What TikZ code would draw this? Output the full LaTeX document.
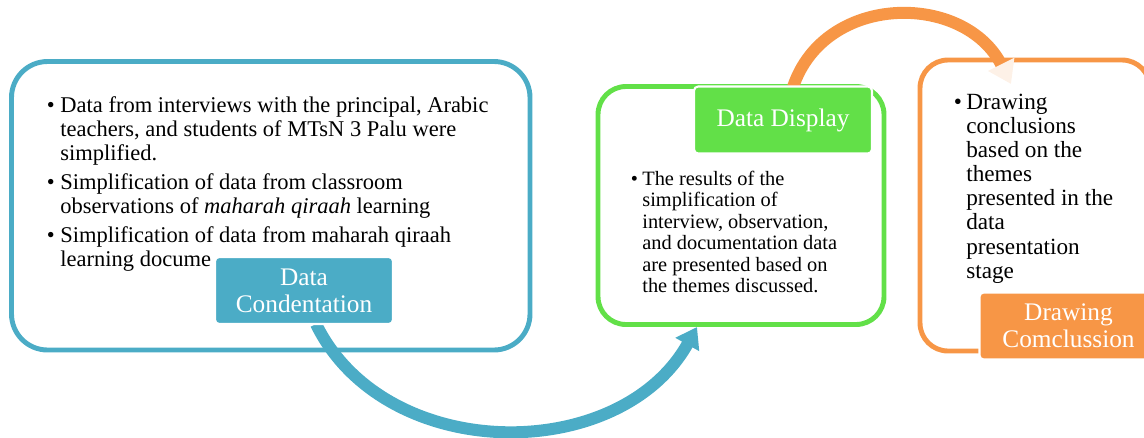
\documentclass[tikz,border=0pt]{standalone}
\usepackage{fontspec}
\setmainfont{Liberation Serif}
\usetikzlibrary{arrows.meta,fit}

\definecolor{condblue}{HTML}{4BACC6}
\definecolor{dispgreen}{HTML}{62E048}
\definecolor{conclorange}{HTML}{F79646}
\definecolor{tippale}{HTML}{FDF1E7}

\begin{document}
\begin{tikzpicture}[x=0.025cm, y=-0.025cm,
    stagebox/.style={draw=#1, line width=3.5pt, inner sep=0pt},
    stagelabel/.style={fill=#1, draw=white, line width=1.5pt, rounded corners=3pt,
      text=white, align=center, minimum width=4.45cm, minimum height=1.675cm,
      font=\fontsize{18}{19}\selectfont},
    flowarc/.style={line width=0.3cm, draw=#1},
  ]
  \useasboundingbox (0,0) rectangle (1144,437);

  % frames
  \node[stagebox=condblue, rounded corners=0.9cm, fit={(11.5,61.5) (530,350)}] (condbox) {};
  \node[stagebox=dispgreen, rounded corners=0.7cm, fit={(598,86.5) (884,324.5)}] (dispbox) {};
  \node[stagebox=conclorange, rounded corners=0.7cm, fit={(920,60) (1150,351)}] (conclbox) {};

  % bullet texts
  \node[anchor=base west, font=\fontsize{16}{17.4}\selectfont] (condtext) at (42,112) {%
    \begin{tabular}[t]{@{}l@{\hspace{4pt}}l@{}}
      \textbullet & Data from interviews with the principal, Arabic\\
      & teachers, and students of MTsN 3 Palu were\\
      & simplified.\\[2.8pt]
      \textbullet & Simplification of data from classroom\\
      & observations of \textit{maharah qiraah} learning\\[2.8pt]
      \textbullet & Simplification of data from maharah qiraah\\
      & learning docume
    \end{tabular}};
  \node[anchor=base west, font=\fontsize{14.5}{15.3}\selectfont] (disptext) at (626,185) {%
    \begin{tabular}[t]{@{}l@{\hspace{3pt}}l@{}}
      \textbullet & The results of the\\
      & simplification of\\
      & interview, observation,\\
      & and documentation data\\
      & are presented based on\\
      & the themes discussed.
    \end{tabular}};
  \node[anchor=base west, font=\fontsize{16.5}{17.2}\selectfont] (concltext) at (949,109) {%
    \begin{tabular}[t]{@{}l@{\hspace{3pt}}l@{}}
      \textbullet & Drawing\\
      & conclusions\\
      & based on the\\
      & themes\\
      & presented in the\\
      & data\\
      & presentation\\
      & stage
    \end{tabular}};

  % flow arcs, starting under the stage labels
  \coordinate (condfoot) at (316,324);
  \coordinate (disptop) at (793,87);
  \coordinate (disptip) at (697,327);
  \coordinate (concltip) at (1011,84);
  \draw[flowarc=condblue, -{Triangle[width=0.65cm, length=0.5cm]}]
    (condfoot) .. controls (385,465) and (620,465) .. (disptip);
  \draw[flowarc=conclorange, -{Triangle[width=0.7cm, length=0.55cm, color=tippale, fill=tippale]}]
    (disptop) .. controls (825,-8) and (965,-8) .. (concltip);

  % stage labels
  \node[stagelabel=condblue] (condlab) at (304,290.5) {Data\\Condentation};
  \node[stagelabel=dispgreen] (displab) at (783,120) {Data Display};
  \node[stagelabel=conclorange] (concllab) at (1068.5,326) {Drawing\\Comclussion};
\end{tikzpicture}
\end{document}
